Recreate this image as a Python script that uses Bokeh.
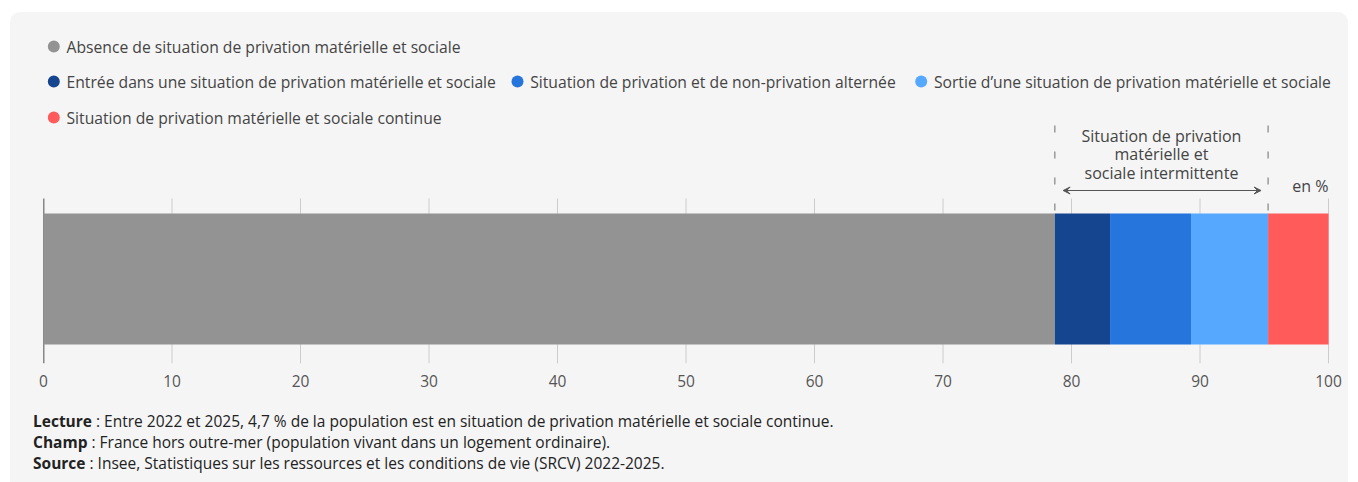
from bokeh.plotting import figure
from bokeh.models import Range1d, FixedTicker, Div, Arrow, VeeHead, ColumnDataSource
from bokeh.layouts import column
from bokeh.embed import file_html
from bokeh.resources import INLINE
from bokeh.core.properties import value

# ---------------- data ----------------
categories = [
    "Absence de situation de privation matérielle et sociale",
    "Entrée dans une situation de privation matérielle et sociale",
    "Situation de privation et de non-privation alternée",
    "Sortie d\u2019une situation de privation matérielle et sociale",
    "Situation de privation matérielle et sociale continue",
]
values = [78.7, 4.3, 6.3, 6.0, 4.7]
colors = ["#939393", "#164590", "#2675dc", "#56a8ff", "#ff5b5b"]
tick_values = [0, 10, 20, 30, 40, 50, 60, 70, 80, 90, 100]
bracket_lines = ["Situation de privation", "matérielle et", "sociale intermittente"]
unit_label = "en %"
notes_bold = ["Lecture", "Champ", "Source"]
notes_text = [
    " : Entre 2022 et 2025, 4,7 % de la population est en situation de privation matérielle et sociale continue.",
    " : France hors outre-mer (population vivant dans un logement ordinaire).",
    " : Insee, Statistiques sur les ressources et les conditions de vie (SRCV) 2022-2025.",
]

# ---------------- layout constants ----------------
FONT = "Open Sans"
TXT = "#444444"
X0_PX = 43.0
PX_PER_UNIT = 12.85
CARD_TOP = 12
CARD_LEFT = 10
CARD_W = 1338


def px_to_x(px):
    return (px - X0_PX) / PX_PER_UNIT


lefts, rights = [], []
acc = 0.0
for v in values:
    lefts.append(acc)
    acc += v
    rights.append(acc)

fig_h = 395 - CARD_TOP
p = figure(
    width=CARD_W, height=fig_h,
    x_range=Range1d(0, px_to_x(CARD_LEFT + CARD_W)), y_range=Range1d(363, CARD_TOP),
    output_backend="svg", toolbar_location=None, tools="",
    y_axis_location=None,
    min_border_left=int(X0_PX - CARD_LEFT), min_border_right=0,
    min_border_top=0, min_border_bottom=32,
)
p.background_fill_color = None
p.border_fill_color = None
p.outline_line_color = None
p.xgrid.visible = False
p.ygrid.visible = False

xa = p.xaxis[0]
xa.ticker = FixedTicker(ticks=tick_values)
xa.axis_line_color = None
xa.major_tick_line_color = None
xa.minor_tick_line_color = None
xa.major_label_text_font = FONT
xa.major_label_text_font_size = "15.5px"
xa.major_label_text_color = "#555555"
xa.major_label_standoff = 5

# grid lines
grid_x = [t for t in tick_values if t != 0]
p.segment(x0=grid_x, x1=grid_x, y0=[198] * len(grid_x), y1=[363] * len(grid_x),
          line_color="#cccccc", line_width=1)
p.segment(x0=[0], x1=[0], y0=[198], y1=[363], line_color="#1a1a1a", line_width=1.5)

# bar
src = ColumnDataSource(dict(left=lefts, right=rights, color=colors, y=[278.5] * 5))
p.hbar(y="y", left="left", right="right", height=131, fill_color="color",
       line_color=None, source=src)

# legend (manual, circles + text)
leg_px = [(53.3, 46), (53.3, 81), (517.0, 81), (920.7, 81), (53.3, 117)]
lx = [px_to_x(a) for a, b in leg_px]
ly = [b for a, b in leg_px]
p.scatter(x=lx, y=ly, size=12, marker="circle", fill_color=colors, line_color=None)
p.text(x=[px_to_x(a + 12.7) for a, b in leg_px], y=ly, text=categories,
       text_font=value(FONT), text_font_size="15.7px", text_color=TXT,
       text_baseline="middle", text_align="left")

# bracket for intermittent privation
b0, b1 = lefts[1], rights[3]
p.segment(x0=[b0, b1], x1=[b0, b1], y0=[125, 125], y1=[212, 212],
          line_color="#9a9a9a", line_width=1.5, line_dash="7 19")
p.add_layout(Arrow(x_start=b0 + 0.65, x_end=b1 - 0.55, y_start=190, y_end=190,
                   line_color="#555555", line_width=1,
                   start=VeeHead(size=7, line_color="#555555", fill_color="#555555", line_width=1),
                   end=VeeHead(size=7, line_color="#555555", fill_color="#555555", line_width=1)))
p.text(x=[(b0 + b1) / 2] * 3, y=[135, 153, 172], text=bracket_lines,
       text_font=value(FONT), text_font_size="16px", text_color=TXT,
       text_baseline="middle", text_align="center")
p.text(x=[100], y=[185], text=[unit_label],
       text_font=value(FONT), text_font_size="16px", text_color=TXT,
       text_baseline="middle", text_align="right")

# notes
lines_html = "".join(
    f"<div style=\"height:21px; line-height:21px;\"><b>{b}</b>{t}</div>"
    for b, t in zip(notes_bold, notes_text))
div = Div(
    text=(f"<div style=\"padding:11px 0 0 18px; font-family:'{FONT}'; font-size:15.5px;"
          f" color:#222222; white-space:nowrap;\">{lines_html}</div>"),
    width=CARD_W, height=85,
)

layout = column(p, div, width=CARD_W, margin=(CARD_TOP, 10, 2, CARD_LEFT),
                styles={"background-color": "#f5f5f5", "border-radius": "10px"})

open("out.html", "w").write(file_html(layout, INLINE))
